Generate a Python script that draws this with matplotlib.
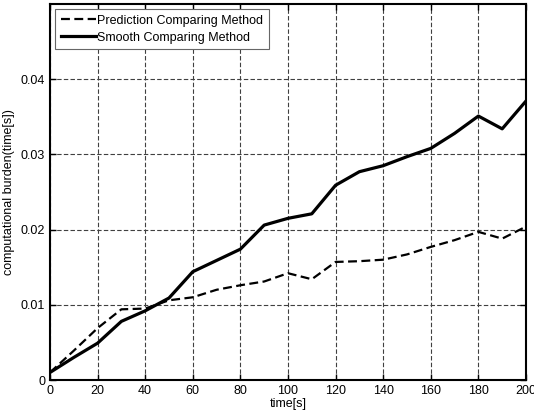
import matplotlib
matplotlib.use("Agg")
import matplotlib.pyplot as plt

plt.rcParams['font.family'] = ['Liberation Sans', 'DejaVu Sans']

time = [0, 10, 20, 30, 40, 50, 60, 70, 80, 90, 100, 110, 120, 130, 140, 150, 160, 170, 180, 190, 200]
prediction = [0.0010, 0.0039, 0.0069, 0.0094, 0.0095, 0.0106, 0.0110, 0.0120, 0.0126, 0.0131, 0.0142,
              0.0134, 0.0157, 0.0158, 0.0160, 0.0167, 0.0177, 0.0186, 0.0197, 0.0188, 0.0204]
smooth = [0.0010, 0.0030, 0.0049, 0.0078, 0.0092, 0.0109, 0.0144, 0.0159, 0.0174, 0.0206, 0.0215,
          0.0221, 0.0259, 0.0277, 0.0285, 0.0297, 0.0308, 0.0328, 0.0351, 0.0334, 0.0371]
xticks = [0, 20, 40, 60, 80, 100, 120, 140, 160, 180, 200]
yticks = [0, 0.01, 0.02, 0.03, 0.04]
ytick_labels = ['0', '0.01', '0.02', '0.03', '0.04']

fig = plt.figure(figsize=(5.34, 4.18), dpi=100)
ax = fig.add_axes([0.0936, 0.0909, 0.8914, 0.8995])

ax.plot(time, prediction, 'k--', lw=1.6, dashes=(4, 2), label='Prediction Comparing Method')
ax.plot(time, smooth, 'k-', lw=2.3, label='Smooth Comparing Method')

ax.set_xlim(0, 200)
ax.set_ylim(0, 0.05)
ax.set_xticks(xticks)
ax.set_xticklabels([str(t) for t in xticks])
ax.set_yticks(yticks)
ax.set_yticklabels(ytick_labels)
ax.grid(True, color='0.25', linestyle=(0, (4, 2)), lw=0.8)
ax.tick_params(direction='in', top=True, right=True, labelsize=9, length=4, width=1)
for s in ax.spines.values():
    s.set_linewidth(1.5)

ax.set_xlabel('time[s]', fontsize=9, labelpad=1)
ax.set_ylabel('computational burden(time[s])', fontsize=9, labelpad=4)

leg = ax.legend(loc='upper left', fontsize=9, fancybox=False, framealpha=1,
                edgecolor='0.4', borderaxespad=0.4, handlelength=2.8,
                borderpad=0.45, labelspacing=0.4, handletextpad=0.15)
leg.get_frame().set_linewidth(0.8)

fig.savefig('out.png', dpi=100)
